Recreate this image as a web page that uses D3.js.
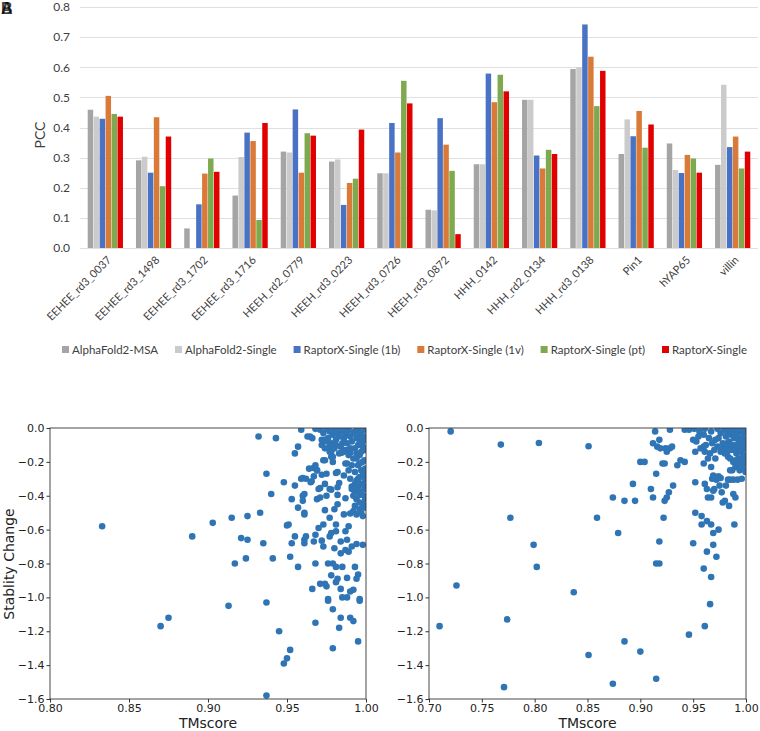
<!DOCTYPE html>
<html>
<head>
<meta charset="utf-8">
<script src="https://cdn.jsdelivr.net/npm/d3@7"></script>
<style>
  body { margin: 0; background: #fff; }
  svg { display: block; }
</style>
</head>
<body>
<div id="chart"></div>
<script>
// ---- bar chart data (PCC per protein) ----
var categories = ["EEHEE_rd3_0037", "EEHEE_rd3_1498", "EEHEE_rd3_1702", "EEHEE_rd3_1716",
    "HEEH_rd2_0779", "HEEH_rd3_0223", "HEEH_rd3_0726", "HEEH_rd3_0872", "HHH_0142",
    "HHH_rd2_0134", "HHH_rd3_0138", "Pin1", "hYAP65", "villin"];
var seriesNames = ["AlphaFold2-MSA", "AlphaFold2-Single", "RaptorX-Single (1b)",
    "RaptorX-Single (1v)", "RaptorX-Single (pt)", "RaptorX-Single"];
var af2Msa    = [0.459, 0.291, 0.065, 0.174, 0.320, 0.287, 0.248, 0.127, 0.278, 0.492, 0.594, 0.312, 0.347, 0.276];
var af2Single = [0.436, 0.303, 0.000, 0.302, 0.317, 0.294, 0.248, 0.125, 0.278, 0.492, 0.600, 0.427, 0.259, 0.542];
var rx1b      = [0.429, 0.250, 0.145, 0.383, 0.460, 0.143, 0.415, 0.431, 0.579, 0.307, 0.742, 0.371, 0.249, 0.335];
var rx1v      = [0.505, 0.434, 0.247, 0.355, 0.250, 0.216, 0.317, 0.343, 0.484, 0.264, 0.635, 0.455, 0.309, 0.370];
var rxPt      = [0.445, 0.205, 0.297, 0.093, 0.381, 0.230, 0.555, 0.256, 0.575, 0.326, 0.471, 0.333, 0.297, 0.264];
var rxSingle  = [0.436, 0.370, 0.253, 0.415, 0.373, 0.393, 0.480, 0.046, 0.520, 0.312, 0.588, 0.410, 0.250, 0.320];
var seriesValues = [af2Msa, af2Single, rx1b, rx1v, rxPt, rxSingle];
var barColors = ["#a5a5a5", "#cbcbcb", "#4a72c4", "#d97a38", "#7ea94e", "#e00000"];
var pccTicks = [0, 0.1, 0.2, 0.3, 0.4, 0.5, 0.6, 0.7, 0.8];

// ---- scatter data: [TMscore, stability change] ----
var leftPoints = [
  [0.833,-0.58],[0.870,-1.17],[0.875,-1.12],[0.890,-0.64],[0.903,-0.56],[0.915,-0.53],[0.925,-0.52],
  [0.921,-0.65],[0.925,-0.66],[0.917,-0.80],[0.924,-0.77],[0.913,-1.05],[0.932,-0.05],[0.943,-0.06],
  [0.937,-0.27],[0.933,-0.50],[0.935,-0.68],[0.940,-0.39],[0.941,-0.77],[0.937,-1.03],[0.945,-1.20],
  [0.937,-1.58],[0.950,-1.36],[0.948,-1.39],[0.952,-1.31],[0.948,-0.32],[0.950,-0.575],[0.951,-0.57],
  [0.952,-0.76],[0.953,-0.42],[0.953,-0.68],[0.955,-0.64],[0.955,-0.34],[0.955,-0.15],[0.957,-0.11],
  [0.957,-0.47],[0.957,-0.82],[0.959,-0.01],[0.959,-0.30],[0.960,-0.40],[0.960,-0.43],[0.961,-0.39],
  [0.961,-0.50],[0.961,-0.51],[0.961,-0.66],[0.961,-0.68],[0.962,-0.64],[0.962,-0.30],[0.963,-0.05],
  [0.964,-0.24],[0.966,-0.06],[0.965,-0.32],[0.966,-0.95],[0.967,-0.285],[0.967,-0.67],[0.968,-0.80],
  [0.968,-0.63],[0.968,-1.15],[0.968,-0.22],[0.969,-0.25],[0.969,-0.42],[0.970,-0.59],[0.970,-0.36],
  [0.971,-0.92],[0.971,-0.41],[0.972,-0.665],[0.972,-0.07],[0.973,-0.70],[0.973,-0.57],[0.974,-0.485],
  [0.974,-0.92],[0.974,-0.33],[0.974,-0.19],[0.975,-0.27],[0.975,-0.935],[0.976,-1.01],[0.976,-1.02],
  [0.976,-0.80],[0.977,-0.53],[0.977,-0.64],[0.977,-0.36],[0.978,-0.87],[0.978,-0.62],[0.978,-0.17],
  [0.979,-0.80],[0.979,-1.07],[0.979,-1.30],[0.980,-0.71],[0.980,-0.48],[0.981,-0.57],[0.981,-0.61],
  [0.981,-0.91],[0.981,-0.82],[0.982,-0.45],[0.982,-0.89],[0.982,-0.26],[0.982,-0.35],[0.982,-0.395],
  [0.983,-1.18],[0.984,-0.67],[0.984,-0.95],[0.984,-1.12],[0.984,-0.74],[0.985,-0.82],[0.985,-1.00],
  [0.986,-0.51],[0.986,-0.14],[0.986,-0.28],[0.987,-0.415],[0.987,-0.61],[0.987,-0.72],[0.988,-0.885],
  [0.988,-1.00],[0.988,-0.21],[0.988,-0.66],[0.989,-0.58],[0.989,-0.73],[0.990,-0.505],[0.990,-0.965],
  [0.990,-1.12],[0.991,-0.345],[0.991,-0.70],[0.992,-1.14],[0.992,-0.955],[0.993,-0.82],[0.993,-0.46],
  [0.994,-0.685],[0.994,-0.89],[0.995,-1.26],[0.995,-0.865],[0.996,-1.01],[0.996,-1.02],[0.998,-0.69],
  [0.9646,-0.05],[0.968,-0.005],[0.974,-0.07],[0.977,-0.14],[0.9846,-0.146],[0.990,-0.146],[0.987,-0.21],
  [0.979,-0.20],[0.973,-0.19],[0.9667,-0.236],[0.969,-0.25],[0.960,-0.295],[0.9656,-0.315],[0.972,-0.276],
  [0.981,-0.266],[0.983,-0.325],[0.978,-0.364],[0.971,-0.354],[0.975,-0.40],
  [0.971,-0.01],[0.973,-0.03],[0.975,-0.005],[0.976,-0.06],[0.977,-0.02],[0.978,-0.09],[0.979,-0.04],
  [0.980,-0.01],[0.981,-0.07],[0.982,-0.03],[0.983,-0.05],[0.984,-0.11],[0.985,-0.02],[0.986,-0.06],
  [0.987,-0.04],[0.988,-0.09],[0.989,-0.01],[0.990,-0.05],[0.991,-0.08],[0.992,-0.03],[0.972,-0.10],
  [0.974,-0.12],[0.978,-0.14],[0.980,-0.12],[0.983,-0.15],[0.987,-0.13],[0.989,-0.16],[0.975,-0.08],
  [0.977,-0.11],[0.981,-0.10],[0.979,-0.17],[0.985,-0.09],[0.988,-0.02],[0.990,-0.12],[0.982,-0.005],
  [0.986,-0.01],[0.993,-0.02],[0.994,-0.06],[0.995,-0.10],[0.996,-0.03],[0.997,-0.14],[0.998,-0.08],
  [0.999,-0.01],[0.9995,-0.05],[0.993,-0.12],[0.994,-0.18],[0.995,-0.22],[0.996,-0.16],[0.997,-0.25],
  [0.998,-0.20],[0.999,-0.28],[0.9995,-0.12],[0.993,-0.26],[0.994,-0.31],[0.995,-0.35],[0.996,-0.29],
  [0.997,-0.38],[0.998,-0.33],[0.999,-0.40],[0.9995,-0.24],[0.993,-0.38],[0.994,-0.42],[0.996,-0.44],
  [0.998,-0.45],[0.9995,-0.35],[0.997,-0.04],[0.999,-0.19],[0.995,-0.01],[0.998,-0.11],[0.9995,-0.30],
  [0.996,-0.07],[0.992,-0.18],[0.991,-0.22],[0.992,-0.40],[0.991,-0.36],[0.990,-0.30],[0.989,-0.25],
  [0.997,-0.50],[0.9995,-0.42],[0.994,-0.51],[0.998,-0.52],[0.992,-0.49],[0.996,-0.395],[0.993,-0.33],
  [0.995,-0.045],[0.997,-0.09],[0.999,-0.13],[0.994,-0.15],[0.996,-0.21],[0.998,-0.26],[0.995,-0.30],
  [0.997,-0.33],[0.999,-0.36],[0.9995,-0.47],[0.994,-0.36],[0.996,-0.48]
];
var rightPoints = [
  [0.7205,-0.02],[0.768,-0.098],[0.804,-0.089],[0.851,-0.108],[0.777,-0.53],[0.799,-0.69],[0.802,-0.82],
  [0.726,-0.93],[0.837,-0.97],[0.710,-1.17],[0.774,-1.13],[0.771,-1.53],[0.859,-0.53],[0.851,-1.34],
  [0.874,-1.51],[0.885,-1.26],[0.900,-1.32],[0.915,-1.48],[0.946,-1.22],[0.961,-1.17],[0.966,-1.04],
  [0.967,-0.88],[0.874,-0.41],[0.885,-0.43],[0.895,-0.43],[0.893,-0.33],[0.879,-0.62],[0.900,-0.20],
  [0.904,-0.20],[0.910,-0.36],[0.912,-0.41],[0.915,-0.27],[0.918,-0.67],[0.915,-0.80],[0.918,-0.80],
  [0.922,-0.53],[0.923,-0.43],[0.925,-0.41],[0.927,-0.38],[0.931,-0.34],[0.914,-0.02],[0.928,-0.01],
  [0.942,-0.01],[0.912,-0.09],[0.916,-0.11],[0.918,-0.07],[0.919,-0.12],[0.921,-0.21],[0.923,-0.21],
  [0.925,-0.14],[0.928,-0.12],[0.930,-0.11],[0.924,-0.12],[0.935,-0.22],[0.938,-0.19],[0.942,-0.20],
  [0.950,-0.07],[0.952,-0.14],[0.952,-0.32],[0.952,-0.50],[0.950,-0.68],[0.958,-0.52],[0.958,-0.57],
  [0.960,-0.83],[0.960,-0.21],[0.960,-0.11],[0.961,-0.14],[0.963,-0.55],[0.963,-0.73],[0.964,-0.18],
  [0.961,-0.33],[0.963,-0.36],[0.964,-0.41],[0.967,-0.41],[0.967,-0.57],[0.968,-0.30],[0.969,-0.28],
  [0.967,-0.23],[0.969,-0.69],[0.969,-0.62],[0.970,-0.36],[0.969,-0.37],[0.972,-0.76],[0.971,-0.18],
  [0.972,-0.305],[0.974,-0.285],[0.976,-0.295],[0.975,-0.34],[0.977,-0.38],[0.974,-0.60],[0.978,-0.44],
  [0.980,-0.43],[0.984,-0.46],[0.981,-0.34],[0.983,-0.305],[0.985,-0.305],[0.988,-0.305],[0.992,-0.305],
  [0.989,-0.57],[0.988,-0.39],[0.990,-0.41],[0.996,-0.30],[0.987,-0.25],[0.985,-0.25],[0.990,-0.23],
  [0.997,-0.24],[0.976,-0.14],[0.978,-0.12],[0.982,-0.14],[0.983,-0.17],[0.953,-0.08],[0.955,-0.05],
  [0.960,-0.04],[0.965,-0.06],[0.968,-0.09],[0.971,-0.07],[0.974,-0.06],[0.978,-0.09],[0.981,-0.05],
  [0.984,-0.08],[0.987,-0.10],[0.989,-0.13],[0.991,-0.15],[0.946,-0.01],[0.951,-0.005],[0.956,-0.02],
  [0.961,-0.005],[0.967,-0.02],[0.973,-0.005],[0.976,-0.03],[0.979,-0.01],[0.982,-0.02],[0.985,-0.005],
  [0.988,-0.03],[0.990,-0.01],[0.992,-0.04],[0.994,-0.02],[0.996,-0.005],[0.998,-0.03],[0.9995,-0.01],
  [0.993,-0.07],[0.995,-0.09],[0.997,-0.06],[0.999,-0.08],[0.9995,-0.12],[0.994,-0.12],[0.996,-0.14],
  [0.998,-0.16],[0.999,-0.19],[0.9995,-0.21],[0.993,-0.18],[0.995,-0.20],[0.997,-0.21],[0.998,-0.11],
  [0.991,-0.10],[0.989,-0.06],[0.986,-0.04],[0.983,-0.11],[0.980,-0.15],[0.985,-0.18],[0.988,-0.20],
  [0.992,-0.22],[0.990,-0.19],[0.994,-0.25],[0.9995,-0.26],[0.997,-0.17],[0.986,-0.13],[0.993,-0.14],
  [0.970,-0.13],[0.973,-0.11],[0.966,-0.15],[0.962,-0.10],[0.957,-0.12],[0.982,-0.09],[0.996,-0.11]
];
var leftXTicks = [0.80, 0.85, 0.90, 0.95, 1.00];
var rightXTicks = [0.70, 0.75, 0.80, 0.85, 0.90, 0.95, 1.00];
var stabilityTicks = [0.0, -0.2, -0.4, -0.6, -0.8, -1.0, -1.2, -1.4, -1.6];

var W = 760, H = 731;
var svg = d3.select("#chart").append("svg")
    .attr("width", W)
    .attr("height", H);

// panel letters (overlapping as in the figure)
["A", "B"].forEach(function (l) {
    svg.append("text")
        .attr("x", 1).attr("y", 14)
        .attr("font-family", "Liberation Sans, Arial, sans-serif")
        .attr("font-weight", "bold")
        .attr("font-size", "16px")
        .attr("fill-opacity", 0.75)
        .text(l);
});

// ================= bar chart =================
var barFont = "Lato, 'Open Sans', sans-serif";
var x0 = d3.scaleBand()
    .domain(categories)
    .range([80, 758])
    .paddingInner(0.25)
    .paddingOuter(0.15);
var x1 = d3.scaleBand()
    .domain(seriesNames)
    .range([0, x0.bandwidth()])
    .padding(0.08);
var yBar = d3.scaleLinear()
    .domain([0, 0.8])
    .range([248, 7]);

var barG = svg.append("g");

// grid
barG.selectAll("line.grid")
    .data(pccTicks)
    .enter().append("line")
    .attr("x1", 80).attr("x2", 758)
    .attr("y1", function (d) { return Math.round(yBar(d)) + 0.5; })
    .attr("y2", function (d) { return Math.round(yBar(d)) + 0.5; })
    .attr("stroke", "#e0e0e0")
    .attr("stroke-width", 1);

// y tick labels
barG.append("g")
    .attr("transform", "translate(80,0)")
    .call(d3.axisLeft(yBar).tickValues(pccTicks).tickFormat(d3.format(".1f")).tickSize(0).tickPadding(10))
    .call(function (g) { g.select(".domain").remove(); })
    .selectAll("text")
    .attr("fill", "#404040")
    .attr("font-family", barFont)
    .attr("font-size", "12px");

// bars
var groups = barG.selectAll("g.grp")
    .data(categories)
    .enter().append("g")
    .attr("class", "grp")
    .attr("transform", function (d) { return "translate(" + x0(d) + ",0)"; });

groups.selectAll("rect")
    .data(function (c, ci) {
        return seriesNames.map(function (s, si) {
            return {series: s, idx: si, value: seriesValues[si][ci]};
        });
    })
    .enter().append("rect")
    .attr("x", function (d) { return x1(d.series); })
    .attr("y", function (d) { return yBar(d.value); })
    .attr("width", x1.bandwidth())
    .attr("height", function (d) { return yBar(0) - yBar(d.value); })
    .attr("fill", function (d) { return barColors[d.idx]; });

// category labels, rotated
barG.selectAll("text.cat")
    .data(categories)
    .enter().append("text")
    .attr("class", "cat")
    .attr("text-anchor", "end")
    .attr("transform", function (d) {
        return "translate(" + (x0(d) + x0.bandwidth() / 2 + 4) + ",258) rotate(-45)";
    })
    .attr("dy", "0.35em")
    .attr("fill", "#404040")
    .attr("font-family", barFont)
    .attr("font-size", "11px")
    .text(function (d) { return d; });

// y label
barG.append("text")
    .attr("transform", "translate(45,135) rotate(-90)")
    .attr("text-anchor", "middle")
    .attr("fill", "#404040")
    .attr("font-family", barFont)
    .attr("font-size", "14px")
    .text("PCC");

// legend: spread the items over the same span as the figure (x 62..747)
var legend = barG.append("g").attr("transform", "translate(62,350)");
var items = seriesNames.map(function (s, i) {
    var item = legend.append("g");
    item.append("rect")
        .attr("x", 0).attr("y", -4)
        .attr("width", 7).attr("height", 7)
        .attr("fill", barColors[i]);
    var t = item.append("text")
        .attr("x", 10).attr("y", 0)
        .attr("dy", "0.35em")
        .attr("fill", "#404040")
        .attr("font-family", barFont)
        .attr("font-size", "11.5px")
        .text(s);
    return {g: item, w: 10 + t.node().getComputedTextLength()};
});
var totalW = d3.sum(items, function (d) { return d.w; });
var gap = Math.max(6, (685 - totalW) / (items.length - 1));
var lx = 0;
items.forEach(function (d) {
    d.g.attr("transform", "translate(" + lx + ",0)");
    lx += d.w + gap;
});

// ================= scatter plots =================
var sFont = "DejaVu Sans, sans-serif";
var yS = d3.scaleLinear().domain([-1.6, 0]).range([699, 428]);

function scatter(left, right, xDomain, xTicks, points, id, showYLabel) {
    var xS = d3.scaleLinear().domain(xDomain).range([left, right]);
    var g = svg.append("g");

    g.append("clipPath").attr("id", id)
        .append("rect")
        .attr("x", left).attr("y", 428)
        .attr("width", right - left).attr("height", 699 - 428);

    g.append("g")
        .attr("clip-path", "url(#" + id + ")")
        .selectAll("circle")
        .data(points)
        .enter().append("circle")
        .attr("cx", function (d) { return xS(d[0]); })
        .attr("cy", function (d) { return yS(d[1]); })
        .attr("r", 3.3)
        .attr("fill", "#2f75b6");

    var xa = g.append("g")
        .attr("transform", "translate(0,699)")
        .call(d3.axisBottom(xS).tickValues(xTicks).tickFormat(d3.format(".2f")).tickSize(3.5).tickSizeOuter(0).tickPadding(2));
    var ya = g.append("g")
        .attr("transform", "translate(" + left + ",0)")
        .call(d3.axisLeft(yS).tickValues(stabilityTicks).tickFormat(function (d) {
            return d3.format(".1f")(d).replace("-", "\u2212");
        }).tickSize(3.5).tickSizeOuter(0).tickPadding(2));
    [xa, ya].forEach(function (a) {
        a.select(".domain").remove();
        a.selectAll("line").attr("stroke", "#333");
        a.selectAll("text").attr("fill", "#222").attr("font-family", sFont).attr("font-size", "11px");
    });

    // frame
    g.append("rect")
        .attr("x", left).attr("y", 428)
        .attr("width", right - left).attr("height", 699 - 428)
        .attr("fill", "none")
        .attr("stroke", "#333")
        .attr("stroke-width", 0.9);

    g.append("text")
        .attr("x", (left + right) / 2).attr("y", 728)
        .attr("text-anchor", "middle")
        .attr("fill", "#222")
        .attr("font-family", sFont)
        .attr("font-size", "14px")
        .text("TMscore");

    if (showYLabel) {
        g.append("text")
            .attr("transform", "translate(14,564) rotate(-90)")
            .attr("text-anchor", "middle")
            .attr("fill", "#222")
            .attr("font-family", sFont)
            .attr("font-size", "14px")
            .text("Stablity Change");
    }
}

scatter(50, 366, [0.80, 1.00], leftXTicks, leftPoints, "clipL", true);
scatter(429, 746, [0.70, 1.00], rightXTicks, rightPoints, "clipR", false);
</script>
</body>
</html>
